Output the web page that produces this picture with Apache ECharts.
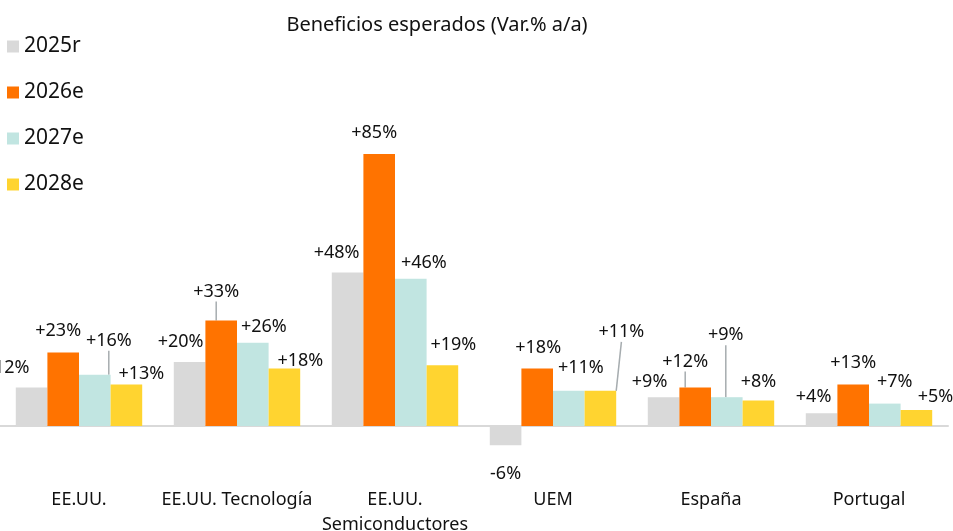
<!DOCTYPE html>
<html>
<head>
<meta charset="utf-8">
<title>Beneficios esperados</title>
<script src="https://cdn.jsdelivr.net/npm/echarts@6/dist/echarts.min.js"></script>
<style>
  html, body { margin: 0; padding: 0; background: #fff; }
  #chart { width: 953px; height: 531px; }
</style>
</head>
<body>
<div id="chart"></div>
<script>
// datos
var categories = ["EE.UU.", "EE.UU. Tecnología", "EE.UU.\nSemiconductores", "UEM", "España", "Portugal"];
var seriesNames = ["2025r", "2026e", "2027e", "2028e"];
var v2025 = [12, 20, 48, -6, 9, 4];
var v2026 = [23, 33, 85, 18, 12, 13];
var v2027 = [16, 26, 46, 11, 9, 7];
var v2028 = [13, 18, 19, 11, 8, 5];

var colors = ["#D9D9D9", "#FF7300", "#C1E5E1", "#FFD430"];
var font = "Noto Sans";

// desplazamiento de etiquetas (como en el original, movidas a mano)
var labelShift = [
  [[-25, -5], [-9, -5], [-11, -5], [0, 14], [-14, 0], [-8, -1]],
  [[-5, -7], [-5, -14], [-5, -6], [1, -6], [-10, -11], [0, -7]],
  [[14, -19], [11, -1], [13, -1], [12, -8], [-1, -47], [10, -7]],
  [[15, 4], [16, 7], [11, -5], [21, -44], [0, -4], [19, 2]]
];
// etiquetas con linea guia: [serie, categoria]
var guided = [[2, 0], [1, 1], [3, 3], [1, 4], [2, 4]];

function fmt(v) {
  return (v > 0 ? "+" : "") + v + "%";
}

function isGuided(si, ci) {
  return guided.some(function (g) { return g[0] === si && g[1] === ci; });
}

function buildData(si, values) {
  return values.map(function (v, ci) {
    var item = { value: v };
    if (v < 0) {
      item.label = { position: "bottom" };
    }
    if (isGuided(si, ci)) {
      item.labelLine = { show: true };
    }
    return item;
  });
}

var allValues = [v2025, v2026, v2027, v2028];

var series = allValues.map(function (vals, si) {
  return {
    name: seriesNames[si],
    type: "bar",
    barGap: "0%",
    barCategoryGap: "20%",
    itemStyle: { color: colors[si] },
    label: {
      show: true,
      position: "top",
      distance: 5,
      fontFamily: font,
      fontSize: 18,
      lineHeight: 20,
      color: "#111",
      formatter: function (p) { return fmt(p.value); }
    },
    labelLine: {
      show: false,
      lineStyle: { color: "#A6ACAF", width: 1.5 }
    },
    labelLayout: function (params) {
      var s = labelShift[si][params.dataIndex];
      var out = { dx: s[0], dy: s[1] };
      if (isGuided(si, params.dataIndex)) {
        // linea desde el centro superior de la barra hasta debajo de la etiqueta
        var r = params.rect, l = params.labelRect;
        var x0 = r.x + r.width / 2, y0 = Math.min(r.y, r.y + r.height);
        var x1 = l.x + l.width / 2 + s[0], y1 = l.y + l.height / 2 + s[1] + 14;
        out.labelLinePoints = [[x0, y0], [(x0 + x1) / 2, (y0 + y1) / 2], [x1, y1]];
      }
      return out;
    },
    data: buildData(si, vals)
  };
});

var myChart = echarts.init(document.getElementById("chart"));

myChart.setOption({
  animation: false,
  color: colors,
  title: {
    text: "Beneficios esperados (Var.% a/a)",
    left: 432,
    textAlign: "center",
    top: 10,
    textStyle: {
      fontFamily: font,
      fontSize: 20,
      fontWeight: "normal",
      color: "#111"
    }
  },
  legend: {
    orient: "vertical",
    left: 7,
    top: 36,
    padding: 0,
    itemWidth: 12,
    itemHeight: 12,
    itemGap: 25,
    icon: "rect",
    data: seriesNames,
    textStyle: {
      fontFamily: font,
      fontSize: 21,
      color: "#111"
    }
  },
  grid: {
    left: 0,
    right: 5,
    top: 122,
    bottom: 57,
    containLabel: false,
    outerBoundsMode: "none"
  },
  xAxis: [
    {
      type: "category",
      data: categories,
      position: "bottom",
      axisLine: { show: false, onZero: false },
      axisTick: { show: false },
      axisLabel: {
        margin: 13,
        fontFamily: font,
        fontSize: 18,
        lineHeight: 25,
        color: "#111",
        interval: 0
      }
    },
    {
      type: "category",
      data: categories,
      position: "bottom",
      axisLine: { show: true, onZero: true, lineStyle: { color: "#D9D9D9", width: 2 } },
      axisTick: { show: false },
      axisLabel: { show: false }
    }
  ],
  yAxis: {
    type: "value",
    min: -15,
    max: 95,
    interval: 5,
    show: false,
    splitLine: { show: false }
  },
  series: series
});
</script>
</body>
</html>
